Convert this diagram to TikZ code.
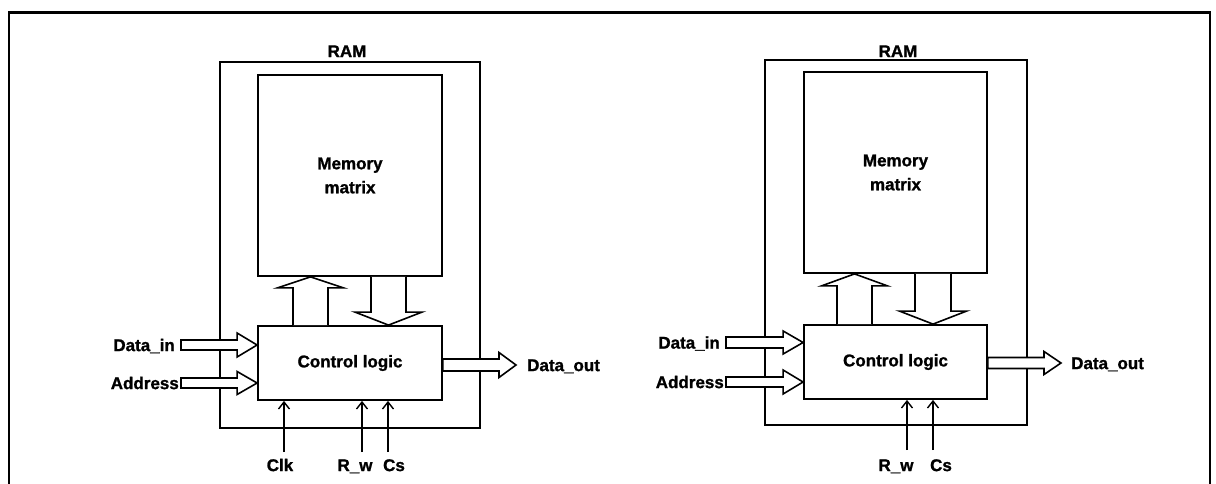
\documentclass[tikz,border=0pt]{standalone}
\usepackage{fontspec}
\setmainfont{Liberation Sans}[BoldFeatures={FakeBold=1.2}]
\usetikzlibrary{arrows.meta,calc}
\tikzset{
  box/.style={draw, line width=1.8pt, inner sep=0pt, font=\bfseries\fontsize{17}{24}\selectfont, align=center},
  rambox/.style={draw, line width=1.1pt, inner sep=0pt},
  hollow/.style={draw, line width=1.6pt, fill=white, line join=miter},
  sig/.style={line width=1.6pt, -{Straight Barb[length=7pt,width=11pt,line width=1.4pt]}},
  lbl/.style={font=\bfseries\fontsize{17}{20}\selectfont, inner sep=0pt, text height=12.2pt, text depth=0pt},
  frame/.style={line width=2.4pt},
}
\newcommand\vhollow[5]{\draw[hollow] let \p1=(#1), \p2=(#2) in
  ({\x1-#3},{\y1}) -- ({\x1-#3},{\y2-(#5)}) -- ({\x1-#4},{\y2-(#5)}) -- (\x2,\y2) --
  ({\x1+#4},{\y2-(#5)}) -- ({\x1+#3},{\y2-(#5)}) -- ({\x1+#3},{\y1});}
\newcommand\hhollow[5]{\draw[hollow] let \p1=(#1), \p2=(#2) in
  ({\x1},{\y1+#3}) -- ({\x2-(#5)},{\y1+#3}) -- ({\x2-(#5)},{\y1+#4}) -- (\x2,\y2) --
  ({\x2-(#5)},{\y1-#4}) -- ({\x2-(#5)},{\y1-#3}) -- ({\x1},{\y1-#3}) -- cycle;}
\begin{document}
\begin{tikzpicture}[x=1pt,y=-1pt]
\useasboundingbox (0,0) rectangle (1216,484);
\fill[white] (0,0) rectangle (1216,484);
% outer frame
\draw[frame] (9,490) -- (9,12.5) -- (1210,12.5) -- (1210,490);

% ---------------- left diagram ----------------
\node[rambox, minimum width=260pt, minimum height=366pt] (ramL) at (350,245) {};
\node[lbl] (ramLt) at (347,51) {RAM};
\node[box, minimum width=184pt, minimum height=201pt] (memL) at (350,175.5) {Memory\\matrix};
\node[box, minimum width=184pt, minimum height=74pt] (ctlL) at (350,363) {Control logic};

\coordinate (upL) at (310.5,0);
\coordinate (dnL) at (388.5,0);
\vhollow{upL |- ctlL.north}{upL |- memL.south}{17.5pt}{33pt}{11pt}
\vhollow{dnL |- memL.south}{dnL |- ctlL.north}{17.5pt}{33.5pt}{-13pt}

\coordinate (dinL) at (181,345);
\coordinate (adrL) at (181,383);
\coordinate (doutL) at (516,365);
\hhollow{dinL}{dinL -| ctlL.west}{5pt}{12pt}{20pt}
\hhollow{adrL}{adrL -| ctlL.west}{5pt}{11.5pt}{20pt}
\hhollow{ctlL.east |- doutL}{doutL}{6pt}{12.5pt}{17pt}
\node[lbl, anchor=east] (dinLt) at ([xshift=-6pt]dinL) {Data\_in};
\node[lbl, anchor=east] (adrLt) at ([xshift=-2pt]adrL) {Address};
\node[lbl, anchor=west] (doutLt) at ([xshift=11pt]doutL) {Data\_out};

\coordinate (clkL) at (284,452);
\coordinate (rwL) at (362,452);
\coordinate (csL) at (388,452);
\draw[sig] (clkL) -- (clkL |- ctlL.south);
\draw[sig] (rwL) -- (rwL |- ctlL.south);
\draw[sig] (csL) -- (csL |- ctlL.south);
\node[lbl] (clkLt) at (280,465) {Clk};
\node[lbl] (rwLt) at (355,465) {R\_w};
\node[lbl] (csLt) at (394,465) {Cs};

% ---------------- right diagram ----------------
\node[rambox, minimum width=262pt, minimum height=365pt] (ramR) at (896,242.5) {};
\node[lbl] (ramRt) at (898,51) {RAM};
\node[box, minimum width=183pt, minimum height=201pt] (memR) at (895.5,172.5) {Memory\\matrix};
\node[box, minimum width=183pt, minimum height=74pt] (ctlR) at (895.5,362) {Control logic};

\coordinate (upR) at (854.5,0);
\coordinate (dnR) at (933,0);
\vhollow{upR |- ctlR.north}{upR |- memR.south}{17.5pt}{33pt}{12pt}
\vhollow{dnR |- memR.south}{dnR |- ctlR.north}{18pt}{33.5pt}{-13pt}

\coordinate (dinR) at (726,342.5);
\coordinate (adrR) at (726,382);
\coordinate (doutR) at (1061,363);
\hhollow{dinR}{dinR -| ctlR.west}{5.5pt}{11.5pt}{20pt}
\hhollow{adrR}{adrR -| ctlR.west}{5pt}{12pt}{20pt}
\hhollow{ctlR.east |- doutR}{doutR}{5.5pt}{11.5pt}{17pt}
\node[lbl, anchor=east] (dinRt) at ([xshift=-6pt]dinR) {Data\_in};
\node[lbl, anchor=east] (adrRt) at ([xshift=-2pt]adrR) {Address};
\node[lbl, anchor=west] (doutRt) at ([xshift=10pt]doutR) {Data\_out};

\coordinate (rwR) at (907,450);
\coordinate (csR) at (933,450);
\draw[sig] (rwR) -- (rwR |- ctlR.south);
\draw[sig] (csR) -- (csR |- ctlR.south);
\node[lbl] (rwRt) at (896,465) {R\_w};
\node[lbl] (csRt) at (941,465) {Cs};
\end{tikzpicture}
\end{document}
